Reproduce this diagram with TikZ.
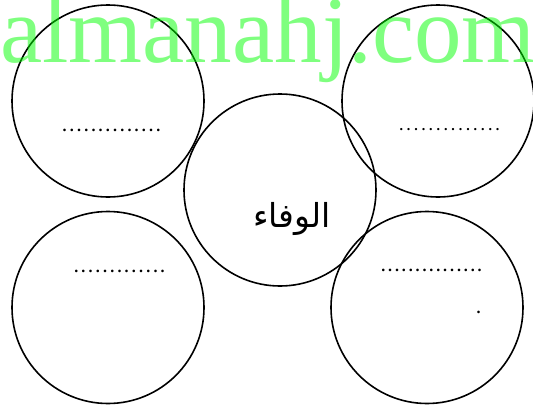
\documentclass[tikz,border=0pt]{standalone}
\usepackage{fontspec}
\setmainfont{Liberation Serif}
\newfontfamily\arabicfont[Script=Arabic]{DejaVu Sans}
\TeXXeTstate=1
\usepackage{tikz}
\usetikzlibrary{positioning}

\begin{document}
\begin{tikzpicture}[x=1pt,y=-1pt,
	ring/.style={circle,draw=black,line width=1.6pt,minimum size=192pt,inner sep=0pt},
	blanks/.style={inner sep=0pt,font=\fontsize{16}{16}\selectfont\bfseries\addfontfeature{LetterSpace=20}},
	tightblanks/.style={inner sep=0pt,font=\fontsize{16}{16}\selectfont\bfseries\addfontfeature{LetterSpace=18}},
	smallblanks/.style={inner sep=0pt,font=\fontsize{14}{14}\selectfont\bfseries\addfontfeature{LetterSpace=28}},
	wmark/.style={anchor=base west,inner sep=0pt,text=green,text opacity=0.5,font=\fontsize{95}{95}\selectfont}]
\useasboundingbox (0,0) rectangle (533,407);
\clip (0,0) rectangle (533,407);
% the five circles
\node[ring] (tl) at (108,101) {};
\node[ring] (tr) at (438,101) {};
\node[ring] (mid) at (280,190) {};
\node[ring] (bl) at (108,307.5) {};
\node[ring] (br) at (427,307.5) {};
% texts
\node[blanks] (tltext) at (111.5,130) {..............};
\node[smallblanks] (trtext) at (449.5,130) {..............};
\node[blanks] (bltext) at (119.5,271) {.............};
\node[tightblanks] (brtext) at (431.5,270) {...............};
\node[blanks] (brdot) at (478.5,312) {.};
\node[font=\fontsize{33}{33}\selectfont\arabicfont] (midtext) at (292,219) {\beginR الوفاء\endR};
% watermark
\node[wmark] (site) at (0,62) {almanahj.com};
\end{tikzpicture}
\end{document}
